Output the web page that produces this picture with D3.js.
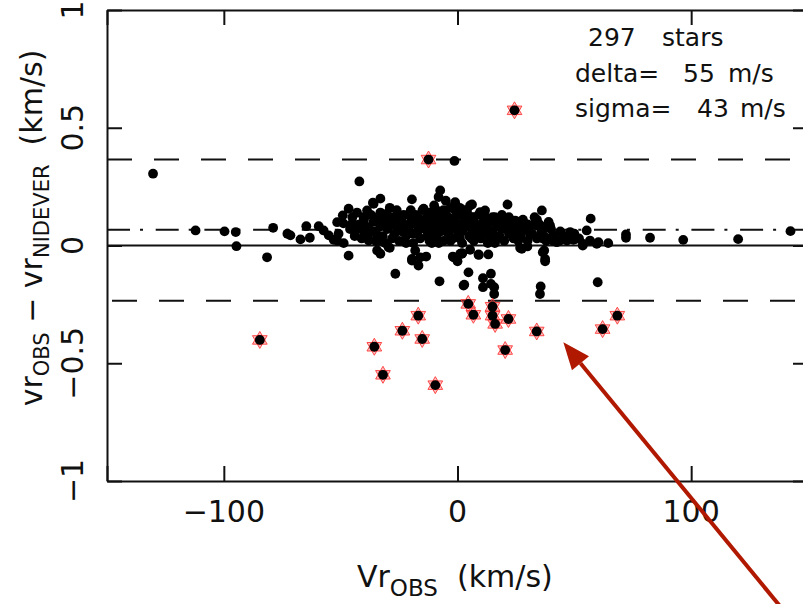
<!DOCTYPE html>
<html>
<head>
<meta charset="utf-8">
<script src="https://cdn.jsdelivr.net/npm/d3@7.9.0/dist/d3.min.js"></script>
<style>
  body { margin: 0; background: #fff; }
  svg { display: block; }
  text { font-family: "DejaVu Sans", sans-serif; fill: #111; white-space: pre; }
</style>
</head>
<body>
<svg id="chart" width="803" height="604"></svg>
<script>
// vr_obs (km/s) vs vr_obs - vr_nidever (km/s)
const xTicks = [-150, -100, 0, 100, 150];
const yTicks = [-1, -0.5, 0, 0.5, 1];
const yTickLabels = ['\u22121', '\u22120.5', '0', '0.5', '1'];
const xLabelTicks = [-100, 0, 100];
const xTickLabels = ['\u2212100', '0', '100'];

const meanOffset = 0.067;
const upperCut = 0.365;
const lowerCut = -0.235;

const statLines = [
  ['297', 'stars'],
  ['delta=', '55', 'm/s'],
  ['sigma=', '43', 'm/s']
];

// stars outside the band, drawn with a red marker
const flagged = [
  [-84.6, -0.401], [-35.6, -0.430], [-31.9, -0.549], [-23.6, -0.362],
  [-16.8, -0.298], [-15.1, -0.397], [-9.5, -0.593], [4.6, -0.248],
  [6.8, -0.294], [15.0, -0.260], [15.0, -0.298], [16.1, -0.333],
  [21.8, -0.312], [20.4, -0.444], [33.9, -0.365], [62.1, -0.355],
  [68.4, -0.298], [-12.4, 0.365], [24.4, 0.574]
];

const wing = [
  [-130.3, 0.305], [-112.1, 0.064], [-99.7, 0.060], [-94.9, 0.057], [-94.6, -0.003],
  [-81.5, -0.050], [-78.9, 0.075], [-72.8, 0.050], [-71.5, 0.043], [-67.2, 0.026],
  [-63.2, 0.033], [-64.7, 0.082], [-59.4, 0.082], [-57.3, 0.064], [-55.1, 0.043],
  [-53.0, 0.024], [-51.5, 0.099], [-49.1, 0.128], [-46.6, 0.156], [-48.7, 0.010],
  [-46.6, -0.043], [-42.0, 0.272], [-38.7, 0.149], [-36.2, 0.182], [-33.0, 0.199],
  [-40.9, 0.078], [-43.7, 0.060], [-37.3, 0.064], [-33.0, -0.035], [-30.2, 0.135],
  [-26.6, -0.120], [-33.8, 0.021], [-29.5, -0.007], [-25.9, 0.114], [-50.9, 0.050],
  [-51.5, 0.021], [-48.8, 0.094], [-45.1, 0.092], [-43.0, 0.085], [-40.2, 0.120],
  [-40.2, 0.064], [-34.4, 0.035], [-38.0, 0.021], [-34.4, -0.021], [-35.9, 0.177],
  [64.5, 0.010], [72.1, 0.033], [72.1, 0.047], [82.4, 0.033], [96.6, 0.024],
  [120.1, 0.027], [142.5, 0.061], [59.6, 0.007], [53.6, 0.000], [49.6, 0.024],
  [57.0, 0.114], [60.3, 0.014], [55.3, 0.064], [56.7, 0.021], [53.8, 0.007],
  [51.0, 0.029], [48.2, 0.057], [46.8, 0.021], [43.9, 0.021], [44.6, 0.029],
  [41.0, 0.043], [42.5, 0.014], [40.3, 0.035], [39.6, 0.085]
];

const upper = [
  [-19.5, 0.196], [-7.4, 0.234], [-8.1, 0.206], [-1.0, 0.184], [5.4, 0.170],
  [-32.3, 0.106], [-25.9, 0.116], [-14.5, 0.156], [-18.8, 0.114], [-10.3, 0.135],
  [-5.3, 0.142], [-0.3, 0.135], [2.6, 0.120], [-1.3, 0.359], [9.7, 0.142],
  [11.8, 0.149], [-6.0, 0.142], [3.3, 0.128], [21.1, 0.106], [24.7, 0.106],
  [29.7, 0.078], [33.2, 0.092], [36.8, 0.078], [36.1, 0.149], [21.4, 0.174],
  [6.2, 0.174], [4.0, 0.149], [14.0, 0.106], [20.4, 0.106], [25.4, 0.078],
  [28.2, 0.064], [33.9, 0.085], [38.2, 0.078], [31.1, 0.043], [35.3, 0.035],
  [36.8, 0.029]
];

const lower = [
  [-29.0, -0.010], [-19.5, -0.057], [-19.5, -0.064], [-16.7, -0.085], [-13.4, -0.047],
  [-18.1, -0.021], [-7.7, -0.152], [-2.0, -0.047], [0.0, -0.067], [1.9, -0.035],
  [5.4, -0.018], [9.0, -0.038], [13.2, -0.038], [4.7, -0.114], [2.9, -0.166],
  [10.9, -0.139], [14.3, -0.120], [15.7, -0.177], [15.7, -0.206], [26.8, -0.010],
  [29.9, -0.004], [36.5, -0.029], [37.5, -0.067], [35.6, -0.174], [60.0, -0.156],
  [-15.9, -0.050], [-1.7, -0.050], [2.0, -0.033], [9.1, -0.040], [2.6, -0.170],
  [10.9, -0.177], [14.3, -0.163], [35.3, -0.206], [37.1, -0.021], [1.2, -0.035],
  [27.5, -0.014], [37.5, -0.057]
];

const core = [
  [-36, 0.10], [-35, 0.06], [-34, 0.12], [-33, 0.08], [-32, 0.04], [-31, 0.10],
  [-30, 0.07], [-29, 0.12], [-28, 0.03], [-28, 0.09], [-27, 0.05], [-26, 0.08],
  [-25, 0.02], [-24, 0.11], [-24, 0.06], [-23, 0.09], [-22, 0.04], [-21, 0.13],
  [-21, 0.07], [-20, 0.10], [-19, 0.05], [-19, 0.01], [-18, 0.09], [-17, 0.12],
  [-17, 0.06], [-16, 0.03], [-15, 0.10], [-15, 0.15], [-14, 0.07], [-13, 0.04],
  [-13, 0.12], [-12, 0.09], [-11, 0.06], [-11, 0.01], [-10, 0.11], [-10, 0.17],
  [-9, 0.08], [-9, 0.04], [-8, 0.13], [-7, 0.06], [-7, 0.10], [-6, 0.02],
  [-6, 0.15], [-5, 0.08], [-4, 0.12], [-4, 0.05], [-3, 0.09], [-3, 0.16],
  [-2, 0.03], [-2, 0.11], [-1, 0.07], [0, 0.13], [0, 0.04], [1, 0.09],
  [1, 0.16], [2, 0.06], [2, 0.01], [3, 0.11], [4, 0.08], [4, 0.14],
  [5, 0.04], [5, 0.10], [6, 0.07], [7, 0.12], [7, 0.02], [8, 0.09],
  [8, 0.05], [9, 0.13], [10, 0.07], [10, 0.03], [11, 0.10], [12, 0.05],
  [12, 0.12], [13, 0.08], [14, 0.03], [14, 0.10], [15, 0.06], [16, 0.12],
  [16, 0.01], [17, 0.08], [18, 0.04], [18, 0.10], [19, 0.07], [20, 0.02],
  [21, 0.09], [22, 0.05], [23, 0.08], [24, 0.03], [25, 0.06], [26, 0.10],
  [27, 0.04], [28, 0.07], [30, 0.02], [30, 0.09], [32, 0.05], [34, 0.03],
  [34, 0.11], [36, 0.06], [38, 0.02], [40, 0.07], [-38, 0.05], [-40, 0.11],
  [-42, 0.09], [-44, 0.04], [-46, 0.07]
];

const coreFill = [
  [-45, 0.12], [-43, 0.14], [-41, 0.03], [-39, 0.08], [-37, 0.13], [-35, 0.02],
  [-33, 0.14], [-31, 0.01], [-29, 0.16], [-27, 0.12], [-26, 0.15], [-25, 0.09],
  [-23, 0.13], [-22, 0.01], [-20, 0.15], [-18, 0.13], [-16, 0.08], [-14, 0.11],
  [-12, 0.02], [-12, 0.14], [-9, 0.15], [-8, 0.01], [-5, 0.12], [-5, 0.19],
  [-3, 0.02], [-1, 0.10], [-1, 0.15], [1, 0.03], [3, 0.15], [6, 0.12],
  [6, 0.03], [9, 0.08], [11, 0.13], [13, 0.01], [15, 0.12], [17, 0.03],
  [19, 0.13], [20, 0.08], [22, 0.12], [24, 0.09], [26, 0.02], [28, 0.11],
  [31, 0.08], [33, 0.12], [35, 0.09], [37, 0.04], [39, 0.10], [41, 0.02],
  [44, 0.06], [47, 0.04], [50, 0.05], [52, 0.03]
];

// annotation arrow, tail and tip in data units
const arrowTail = [137.9, -1.53];
const arrowTip = [45.3, -0.411];

const svg = d3.select('#chart');

const x = d3.scaleLinear().domain([-150, 150]).range([107, 808]);
const y = d3.scaleLinear().domain([-1, 1]).range([481, 10]);

const frame = svg.append('g');
const tick = 15;

function styleAxis(g) {
  g.selectAll('path, line').attr('stroke', '#111').attr('stroke-width', 2);
  g.selectAll('text').remove();
}

frame.append('g')
  .attr('transform', `translate(0,${y(-1)})`)
  .call(d3.axisBottom(x).tickValues(xTicks).tickSizeInner(-tick).tickSizeOuter(0))
  .call(styleAxis);
frame.append('g')
  .attr('transform', `translate(0,${y(1)})`)
  .call(d3.axisTop(x).tickValues(xTicks).tickSizeInner(-tick).tickSizeOuter(0))
  .call(styleAxis);
frame.append('g')
  .attr('transform', `translate(${x(-150)},0)`)
  .call(d3.axisLeft(y).tickValues(yTicks).tickSizeInner(-tick).tickSizeOuter(0))
  .call(styleAxis);
frame.append('g')
  .attr('transform', `translate(${x(150)},0)`)
  .call(d3.axisRight(y).tickValues(yTicks).tickSizeInner(-tick).tickSizeOuter(0))
  .call(styleAxis);

// tick labels
svg.append('g').selectAll('text')
  .data(xLabelTicks)
  .join('text')
  .attr('x', (d) => x(d))
  .attr('y', 522)
  .attr('text-anchor', 'middle')
  .attr('font-size', 30)
  .text((d, i) => xTickLabels[i]);

svg.append('g').selectAll('text')
  .data(yTicks)
  .join('text')
  .attr('transform', (d) => `translate(83,${y(d)}) rotate(-90)`)
  .attr('text-anchor', 'middle')
  .attr('font-size', 30)
  .text((d, i) => yTickLabels[i]);

// reference lines
const lines = svg.append('g').attr('stroke', '#111').attr('stroke-width', 2);
lines.append('line')
  .attr('x1', x(-150)).attr('x2', x(150)).attr('y1', y(0)).attr('y2', y(0));
lines.append('line')
  .attr('x1', x(-150)).attr('x2', x(150)).attr('y1', y(meanOffset)).attr('y2', y(meanOffset))
  .attr('stroke-dasharray', '23 10 3 12.7');
lines.append('line')
  .attr('x1', x(-150)).attr('x2', x(150)).attr('y1', y(upperCut)).attr('y2', y(upperCut))
  .attr('stroke-dasharray', '25 22');
lines.append('line')
  .attr('x1', x(-150)).attr('x2', x(150)).attr('y1', y(lowerCut)).attr('y2', y(lowerCut))
  .attr('stroke-dasharray', '25 22').attr('stroke-dashoffset', -5);

// points
const black = [...wing, ...upper, ...lower, ...core, ...coreFill];
svg.append('g').selectAll('circle')
  .data(black)
  .join('circle')
  .attr('cx', (d) => x(d[0]))
  .attr('cy', (d) => y(d[1]))
  .attr('r', 4.9)
  .attr('fill', '#000');

function starPath(r) {
  const tri = (a0) => d3.range(3).map((k) => {
    const a = (a0 + k * 120) * Math.PI / 180;
    return [r * Math.cos(a), r * Math.sin(a)];
  });
  const p = (pts) => 'M' + pts.map((q) => q.join(',')).join('L') + 'Z';
  return p(tri(-90)) + p(tri(90));
}

const flaggedG = svg.append('g');
flaggedG.selectAll('path')
  .data(flagged)
  .join('path')
  .attr('transform', (d) => `translate(${x(d[0])},${y(d[1])})`)
  .attr('d', starPath(8.5))
  .attr('fill', 'rgba(255,70,70,0.35)')
  .attr('stroke', '#ff3030')
  .attr('stroke-width', 1)
  .attr('stroke-opacity', 0.85);
flaggedG.selectAll('circle')
  .data(flagged)
  .join('circle')
  .attr('cx', (d) => x(d[0]))
  .attr('cy', (d) => y(d[1]))
  .attr('r', 4.9)
  .attr('fill', '#000');

// stats text
const statPos = [[588, 662], [575, 683, 728], [575, 697, 740]];
const statBase = [46, 82, 117];
statLines.forEach((row, i) => {
  row.forEach((s, j) => {
    svg.append('text')
      .attr('x', statPos[i][j])
      .attr('y', statBase[i])
      .attr('font-size', 25)
      .text(s);
  });
});

// axis titles
const xt = svg.append('text')
  .attr('x', 357).attr('y', 587)
  .attr('font-size', 30);
xt.append('tspan').text('Vr');
xt.append('tspan').attr('font-size', 23).attr('dy', 9).text('OBS');
xt.append('tspan').attr('dy', -9).text('  (km/s)');

const yt = svg.append('text')
  .attr('transform', `translate(42,228) rotate(-90)`)
  .attr('text-anchor', 'middle')
  .attr('font-size', 30);
yt.append('tspan').text('vr');
yt.append('tspan').attr('font-size', 21).attr('dy', 7).text('OBS');
yt.append('tspan').attr('dy', -7).text(' \u2212 vr');
yt.append('tspan').attr('font-size', 21).attr('dy', 7).text('NIDEVER');
yt.append('tspan').attr('dy', -7).text('  (km/s)');

// arrow
const arrowColor = '#b01800';
const tip = [x(arrowTip[0]), y(arrowTip[1])];
const tail = [x(arrowTail[0]), y(arrowTail[1])];
const ang = Math.atan2(tail[1] - tip[1], tail[0] - tip[0]);
const headLen = 27, headHalf = 11;
const base = [tip[0] + headLen * Math.cos(ang), tip[1] + headLen * Math.sin(ang)];
const nx = -Math.sin(ang), ny = Math.cos(ang);
svg.append('line')
  .attr('x1', tail[0]).attr('y1', tail[1])
  .attr('x2', base[0]).attr('y2', base[1])
  .attr('stroke', arrowColor).attr('stroke-width', 4);
svg.append('path')
  .attr('d', `M${tip[0]},${tip[1]}L${base[0] + headHalf * nx},${base[1] + headHalf * ny}L${base[0] - headHalf * nx},${base[1] - headHalf * ny}Z`)
  .attr('fill', arrowColor);
</script>
</body>
</html>
